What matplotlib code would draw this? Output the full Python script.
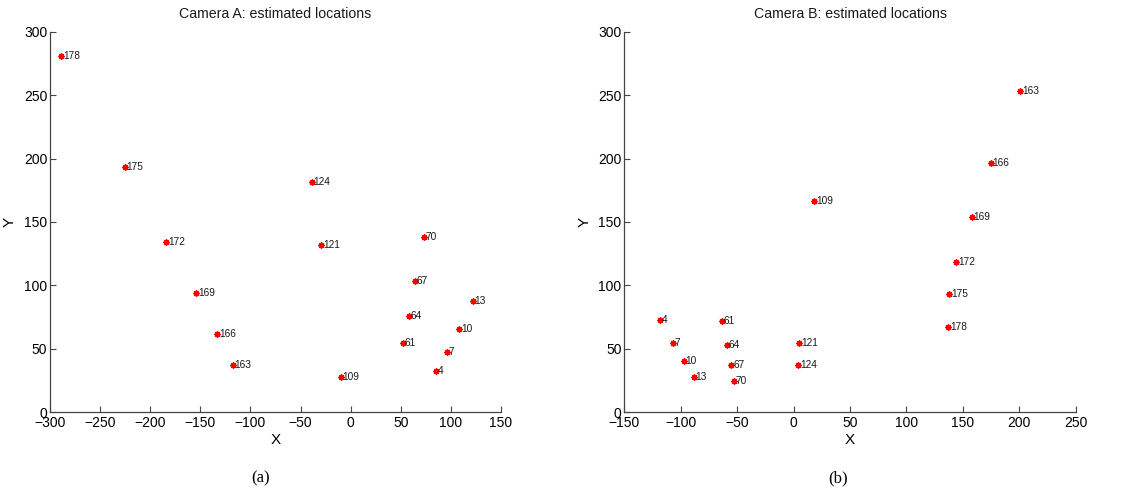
import matplotlib
matplotlib.use("Agg")
import matplotlib.pyplot as plt

plt.rcParams['font.family'] = ['Liberation Sans', 'DejaVu Sans']

# Camera A: estimated (X, Y) locations with their point IDs
ids_a = ["178", "175", "124", "172", "121", "70", "67", "13", "169", "64",
         "10", "166", "61", "7", "163", "4", "109"]
x_a = [-288.7, -225.3, -39.0, -184.0, -29.3, 72.7, 64.0, 122.0, -154.0, 58.3,
       108.3, -133.0, 52.3, 96.0, -117.7, 85.3, -10.0]
y_a = [281.0, 193.7, 181.8, 134.2, 131.8, 138.4, 103.4, 87.9, 93.7, 75.8,
       65.3, 61.6, 54.7, 47.6, 37.4, 32.6, 27.6]

# Camera B: estimated (X, Y) locations with their point IDs
ids_b = ["163", "166", "109", "169", "172", "175", "178", "4", "61", "7",
         "64", "121", "10", "67", "124", "13", "70"]
x_b = [200.8, 174.5, 18.2, 158.0, 144.0, 138.1, 137.2, -118.4, -63.7, -107.1,
       -59.2, 5.1, -97.1, -55.1, 4.0, -88.2, -52.5]
y_b = [253.7, 196.3, 166.3, 154.0, 118.4, 93.2, 66.9, 72.6, 71.6, 54.7,
       52.9, 54.7, 40.0, 37.1, 36.9, 27.6, 24.5]

xticks_a = [-300, -250, -200, -150, -100, -50, 0, 50, 100, 150]
xticks_b = [-150, -100, -50, 0, 50, 100, 150, 200, 250]
yticks = [0, 50, 100, 150, 200, 250, 300]

fig = plt.figure(figsize=(11.3, 4.93), dpi=100)

panels = [
    dict(rect=[0.04425, 0.1643, 0.3991, 0.7708], x=x_a, y=y_a, ids=ids_a,
         xlim=(-300, 150), xticks=xticks_a, title="Camera A: estimated locations",
         caption="(a)", cx=0.2307),
    dict(rect=[0.5525, 0.1643, 0.3995, 0.7708], x=x_b, y=y_b, ids=ids_b,
         xlim=(-150, 250), xticks=xticks_b, title="Camera B: estimated locations",
         caption="(b)", cx=0.7416),
]

for p in panels:
    ax = fig.add_axes(p["rect"])
    ax.plot(p["x"], p["y"], linestyle="none", marker=(8, 2, 0), color="red",
            markersize=4.5, markeredgewidth=1.0)
    for xi, yi, lab in zip(p["x"], p["y"], p["ids"]):
        ax.annotate(lab, (xi, yi), xytext=(1.2, 0), textcoords="offset points",
                    fontsize=7.3, color="#1a1a1a", ha="left", va="center")
    ax.set_xlim(*p["xlim"])
    ax.set_ylim(0, 300)
    ax.set_xticks(p["xticks"])
    ax.set_yticks(yticks)
    for side in ("top", "right"):
        ax.spines[side].set_visible(False)
    for side in ("left", "bottom"):
        ax.spines[side].set_linewidth(0.9)
        ax.spines[side].set_color("#444444")
    ax.tick_params(direction="in", length=4, width=0.8, labelsize=10,
                   colors="#444444", labelcolor="black", pad=3)
    ax.tick_params(axis="y", pad=2)
    ax.set_title(p["title"], fontsize=10.2, pad=10, color="#1a1a1a")
    ax.set_xlabel("X", fontsize=11)
    ax.set_ylabel("Y", fontsize=11)
    ax.xaxis.set_label_coords(0.5, -0.055)
    ax.yaxis.set_label_coords(-0.073, 0.5)
    fig.text(p["cx"], 0.030, p["caption"], fontsize=12,
             family=["Liberation Serif", "DejaVu Serif"], ha="center", va="center")

fig.savefig("out.png", dpi=100)
